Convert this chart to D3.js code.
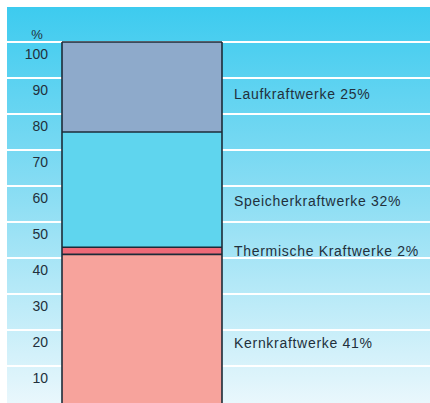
<!DOCTYPE html>
<html>
<head>
<meta charset="utf-8">
<script src="https://cdn.jsdelivr.net/npm/d3@7"></script>
<style>
  body { margin: 0; background: #fff; }
  text { font-family: "Liberation Sans", Arial, sans-serif; fill: #22303c; }
</style>
</head>
<body>
<div class="graph"></div>
<script>
// data: share of each power plant type, bottom to top
var categories = ["Kernkraftwerke", "Thermische Kraftwerke", "Speicherkraftwerke", "Laufkraftwerke"];
var values = [41, 2, 32, 25];
var colors = ["#f7a39c", "#ee6a78", "#5fd5ee", "#8eaacb"];
// where each label's baseline sits, in % of the axis
var labelAt = [14.9, 40.6, 54.5, 84.1];
var yTicks = [10, 20, 30, 40, 50, 60, 70, 80, 90, 100];

// set the dimensions
var width = 430, height = 403;
var plotTop = 42, plotBottom = 402;
var barLeft = 62, barRight = 222;

var svg = d3.select(".graph").append("svg")
    .attr("width", width)
    .attr("height", height);

// background gradient
var grad = svg.append("defs").append("linearGradient")
    .attr("id", "bg")
    .attr("x1", 0).attr("y1", 0).attr("x2", 0).attr("y2", 1);
grad.append("stop").attr("offset", "0%").attr("stop-color", "#3dcbef");
grad.append("stop").attr("offset", "45%").attr("stop-color", "#86dcf3");
grad.append("stop").attr("offset", "100%").attr("stop-color", "#e9f7fc");

svg.append("rect")
    .attr("x", 7).attr("y", 7)
    .attr("width", width - 7).attr("height", height - 7)
    .attr("fill", "url(#bg)");

// set the ranges
var y = d3.scaleLinear().domain([0, 100]).range([plotBottom, plotTop]);

// white grid lines
svg.selectAll("line.grid")
    .data(yTicks)
    .enter().append("line")
    .attr("class", "grid")
    .attr("x1", 7).attr("x2", width)
    .attr("y1", function(d) { return y(d); })
    .attr("y2", function(d) { return y(d); })
    .attr("stroke", "#fff")
    .attr("stroke-width", 2);

// tick labels
svg.selectAll("text.tick")
    .data(yTicks)
    .enter().append("text")
    .attr("class", "tick")
    .attr("x", 48)
    .attr("y", function(d) { return y(d) + 17; })
    .attr("text-anchor", "end")
    .style("font-size", "14px")
    .text(function(d) { return d; });

svg.append("text")
    .attr("x", 37).attr("y", 39)
    .attr("text-anchor", "middle")
    .style("font-size", "13px")
    .text("%");

// stack the segments
var stack = [];
var acc = 0;
values.forEach(function(v, i) {
  stack.push({ name: categories[i], value: v, y0: acc, y1: acc + v, color: colors[i], labelAt: labelAt[i] });
  acc += v;
});

svg.selectAll("rect.seg")
    .data(stack)
    .enter().append("rect")
    .attr("class", "seg")
    .attr("x", barLeft)
    .attr("width", barRight - barLeft)
    .attr("y", function(d) { return y(d.y1); })
    .attr("height", function(d, i) { return y(d.y0) - y(d.y1) + (i === 0 ? 2 : 0); })
    .attr("fill", function(d) { return d.color; });

// segment outlines
svg.selectAll("line.sep")
    .data(stack)
    .enter().append("line")
    .attr("class", "sep")
    .attr("x1", barLeft).attr("x2", barRight)
    .attr("y1", function(d) { return y(d.y1); })
    .attr("y2", function(d) { return y(d.y1); })
    .attr("stroke", "#1c2b38")
    .attr("stroke-width", 1.6);

[barLeft, barRight].forEach(function(x) {
  svg.append("line")
      .attr("x1", x).attr("x2", x)
      .attr("y1", y(100)).attr("y2", height)
      .attr("stroke", "#1c2b38")
      .attr("stroke-width", 1.6);
});

// segment labels
svg.selectAll("text.lab")
    .data(stack)
    .enter().append("text")
    .attr("class", "lab")
    .attr("x", 234)
    .attr("y", function(d) { return y(d.labelAt); })
    .style("font-size", "14px")
    .style("letter-spacing", "0.7px")
    .text(function(d) { return d.name + " " + d.value + "%"; });
</script>
</body>
</html>
